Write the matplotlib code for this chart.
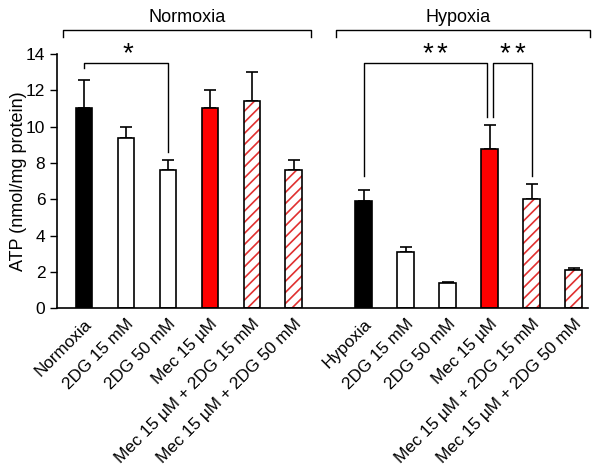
import matplotlib.pyplot as plt
import numpy as np

plt.rcParams['font.family'] = ['Liberation Sans', 'DejaVu Sans']
plt.rcParams['hatch.linewidth'] = 1.2

labels = ['Normoxia', '2DG 15 mM', '2DG 50 mM', 'Mec 15 µM',
          'Mec 15 µM + 2DG 15 mM', 'Mec 15 µM + 2DG 50 mM',
          'Hypoxia', '2DG 15 mM', '2DG 50 mM', 'Mec 15 µM',
          'Mec 15 µM + 2DG 15 mM', 'Mec 15 µM + 2DG 50 mM']
atp = [11.02, 9.36, 7.6, 11.02, 11.4, 7.6,
       5.9, 3.07, 1.38, 8.79, 6.01, 2.1]
err = [1.53, 0.64, 0.57, 1.0, 1.6, 0.58,
       0.6, 0.3, 0.07, 1.31, 0.83, 0.12]
kind = ['ctrl', 'dg', 'dg', 'mec', 'mix', 'mix',
        'ctrl', 'dg', 'dg', 'mec', 'mix', 'mix']

x = np.r_[np.arange(6), np.arange(6) + 6 + 2/3]
w = 0.4

fig = plt.figure(figsize=(6.01, 4.69), dpi=100)
ax = fig.add_axes([0.095, 0.343, 0.883, 0.542])

for xi, v, e, k in zip(x, atp, err, kind):
    if k == 'ctrl':
        ax.bar(xi, v, w, color='black', edgecolor='black', lw=1.2, zorder=2)
    elif k == 'dg':
        ax.bar(xi, v, w, color='white', edgecolor='black', lw=1.2, zorder=2)
    elif k == 'mec':
        ax.bar(xi, v, w, color='#ff0000', edgecolor='black', lw=1.2, zorder=2)
    else:
        ax.bar(xi, v, w, color='white', edgecolor='#e03030', hatch='///', lw=0, zorder=2)
        ax.bar(xi, v, w, fill=False, edgecolor='black', lw=1.2, zorder=3)
    # error bar, upper only
    ax.errorbar(xi, v, yerr=[[0], [e]], fmt='none', ecolor='black',
                elinewidth=1.2, capsize=4, capthick=1.2, zorder=1)

ax.set_xlim(-0.64, 12.0)
ax.set_ylim(0, 14)
ax.set_yticks(range(0, 15, 2))
ax.set_xticks(x)
ax.set_xticklabels(labels, rotation=45, ha='right', rotation_mode='anchor', fontsize=12.3)
ax.tick_params(axis='x', length=0, pad=6)
ax.tick_params(axis='y', direction='out', length=5, width=1, labelsize=12.5)
ax.set_ylabel('ATP (nmol/mg protein)', fontsize=13, va='center')
ax.yaxis.set_label_coords(-0.072, 0.5)
for s in ['top', 'right']:
    ax.spines[s].set_visible(False)
for s in ['left', 'bottom']:
    ax.spines[s].set_linewidth(1.2)

lk = dict(color='black', lw=1.0, clip_on=False)
sk = dict(ha='center', va='bottom', fontsize=20)
# significance brackets
ax.plot([x[0], x[0], x[2], x[2]], [13.2, 13.5, 13.5, 8.6], **lk)
ax.text((x[0] + x[2]) / 2 + 0.05, 13.25, '*', **sk)
ax.plot([x[6], x[6], x[9] - 0.07, x[9] - 0.07], [7.3, 13.5, 13.5, 10.5], **lk)
ax.plot([x[9] + 0.07, x[9] + 0.07, x[10], x[10]], [10.5, 13.5, 13.5, 7.3], **lk)
for sx in [1.52, 1.86]:
    ax.text(x[6] + sx, 13.25, '*', **sk)
for sx in [0.36, 0.71]:
    ax.text(x[9] + sx, 13.25, '*', **sk)

# group brackets
ax.plot([-0.5, -0.5, 5.4, 5.4], [14.96, 15.34, 15.34, 14.96], **lk)
ax.plot([6.0, 6.0, 12.05, 12.05], [14.96, 15.34, 15.34, 14.96], **lk)
ax.text(2.45, 15.55, 'Normoxia', ha='center', va='bottom', fontsize=13)
ax.text(8.9, 15.55, 'Hypoxia', ha='center', va='bottom', fontsize=13)

fig.savefig('out.png', dpi=100)
